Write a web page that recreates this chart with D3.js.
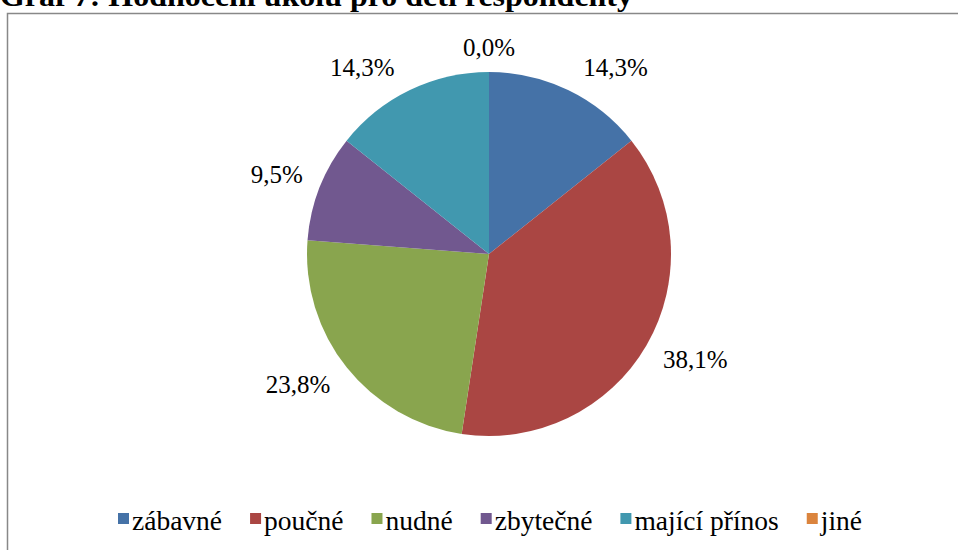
<!DOCTYPE html>
<html>
<head>
<meta charset="utf-8">
<script src="https://cdn.jsdelivr.net/npm/d3@7"></script>
<style>
  body { margin: 0; background: #fff; }
</style>
</head>
<body>
<div id="chart"></div>
<script>
// Dimensions of the page.
var width = 958;
var height = 550;
var serif = "'Liberation Serif', 'Times New Roman', 'DejaVu Serif', serif";

// Chart data.
var categories = ["zábavné", "poučné", "nudné", "zbytečné", "mající přínos", "jiné"];
var values = [14.3, 38.1, 23.8, 9.5, 14.3, 0.0];
var colors = ["#4572A7", "#AA4643", "#89A54E", "#71588F", "#4198AF", "#DB843D"];
var title = "Graf 7: Hodnocení úkolu pro děti respondenty";

var cx = 489, cy = 254, radius = 182;

var svg = d3.select("#chart").append("svg")
    .attr("width", width)
    .attr("height", height)
    .style("font-family", serif);

// Title, cut off by the top edge like in the source
svg.append("text")
    .attr("x", 0)
    .attr("y", 6)
    .attr("font-family", serif)
    .attr("font-size", 30)
    .attr("font-weight", "bold")
    .attr("textLength", 633)
    .attr("lengthAdjust", "spacingAndGlyphs")
    .text(title);

// Chart frame
svg.append("rect")
    .attr("x", 7.5)
    .attr("y", 13.5)
    .attr("width", width + 10)
    .attr("height", height + 10)
    .attr("fill", "none")
    .attr("stroke", "#888")
    .attr("stroke-width", 1.5);

var pie = d3.pie().sort(null).value(function(d) { return d; });
var arcs = pie(values);

var arc = d3.arc().innerRadius(0).outerRadius(radius);

var g = svg.append("g")
    .attr("transform", "translate(" + cx + "," + cy + ")");

g.selectAll("path")
    .data(arcs)
    .enter().append("path")
    .attr("d", arc)
    .attr("fill", function(d, i) { return colors[i]; });

// Percentage labels outside the slices (outside-end placement)
var fmt = function(v) { return v.toFixed(1).replace(".", ",") + "%"; };
var sign = function(v) { return Math.abs(v) < 0.1 ? 0 : (v > 0 ? 1 : -1); };
g.selectAll("text.lbl")
    .data(arcs)
    .enter().append("text")
    .attr("class", "lbl")
    .attr("font-family", serif)
    .attr("font-size", 25)
    .each(function(d) {
      var a = (d.startAngle + d.endAngle) / 2;
      var s = Math.sin(a), c = Math.cos(a);
      var x = (radius + 3) * s + 14 * sign(s);
      var yc = -((radius + 18) * c + 6 * sign(c));
      var anchor = sign(s) > 0 ? "start" : (sign(s) < 0 ? "end" : "middle");
      d3.select(this)
        .attr("x", x)
        .attr("y", yc + 8)
        .attr("text-anchor", anchor);
    })
    .text(function(d) { return fmt(d.data); });

// Legend, spread from x=118 to x=862 under the pie
var legendLeft = 118, legendRight = 862;
var legend = svg.append("g");
var items = [], used = 0;
categories.forEach(function(name, i) {
  var item = legend.append("g");
  item.append("rect")
      .attr("x", 0).attr("y", 513)
      .attr("width", 11).attr("height", 11)
      .attr("fill", colors[i]);
  var t = item.append("text")
      .attr("x", 14).attr("y", 530)
      .attr("font-family", serif)
      .attr("font-size", 27.5)
      .text(name);
  var w = 14 + t.node().getComputedTextLength();
  items.push({ node: item, w: w });
  used += w;
});
var gap = (legendRight - legendLeft - used) / (items.length - 1);
var lx = legendLeft;
items.forEach(function(it) {
  it.node.attr("transform", "translate(" + lx + ",0)");
  lx += it.w + gap;
});
</script>
</body>
</html>
